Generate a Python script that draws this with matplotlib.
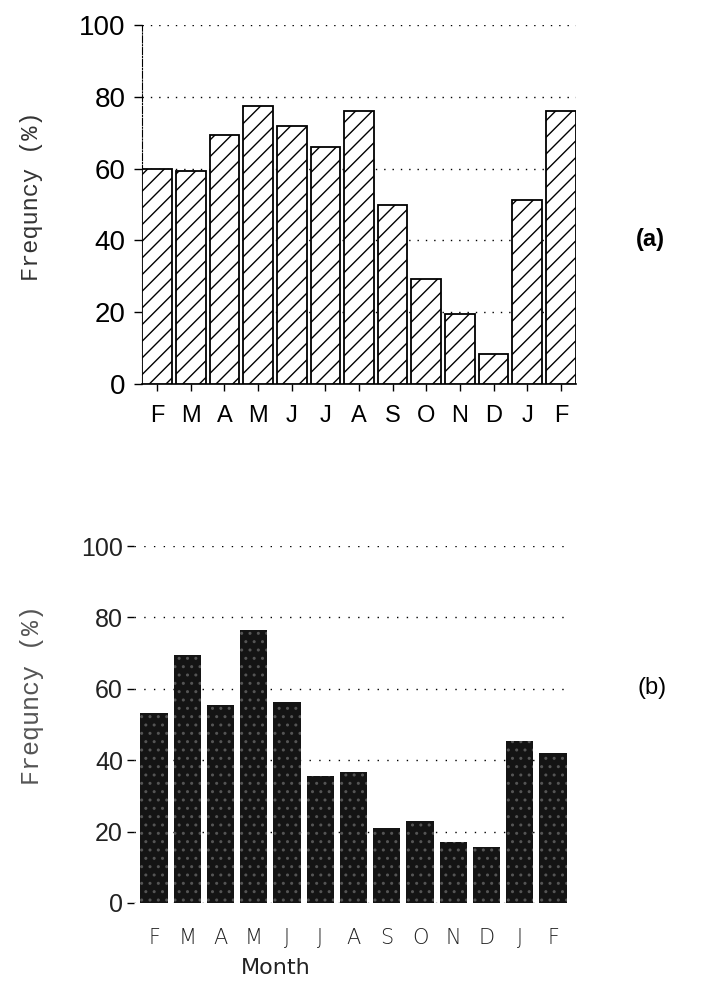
import matplotlib.pyplot as plt

# meses del ciclo anual (feb a feb)
meses = ['F', 'M', 'A', 'M', 'J', 'J', 'A', 'S', 'O', 'N', 'D', 'J', 'F']
frec_a = [60, 59.4, 69.4, 77.4, 71.9, 66.1, 76.1, 50, 29.2, 19.4, 8.4, 51.2, 76]
frec_b = [53.3, 69.6, 55.4, 76.6, 56.3, 35.5, 36.6, 20.9, 23, 17, 15.7, 45.3, 41.9]
ticks_y = [0, 20, 40, 60, 80, 100]

W, H = 701, 1006


def caja(x0, y0, x1, y1):
  # coordenadas en pixeles (origen arriba a la izquierda) -> fraccion de figura
  return [x0 / W, 1 - y1 / H, (x1 - x0) / W, (y1 - y0) / H]


def texto(x, y, s, **kw):
  fig.text(x / W, 1 - y / H, s, ha='center', va='center', **kw)


fig = plt.figure(figsize=(W / 100, H / 100), dpi=100)

# ---- panel (a): barras rayadas ----
ax1 = fig.add_axes(caja(142, 25, 576, 384))
ax1.bar(range(len(meses)), frec_a, width=0.88, color='white', edgecolor='black',
        linewidth=1.3, hatch='//', zorder=3)
ax1.set_xlim(-0.45, 12.45)
ax1.set_ylim(0, 100)
ax1.set_yticks(ticks_y)
ax1.set_yticklabels([str(t) for t in ticks_y], fontsize=20, family='Liberation Sans')
ax1.set_xticks(range(len(meses)))
ax1.set_xticklabels(meses, fontsize=17, family='Liberation Sans')
for s in ['top', 'right']:
  ax1.spines[s].set_visible(False)
ax1.spines['left'].set_linestyle('-.')
ax1.spines['left'].set_linewidth(0.8)
ax1.spines['bottom'].set_linewidth(1.2)
ax1.tick_params(axis='y', length=6, width=1, pad=6)
ax1.tick_params(axis='x', length=5, width=1, pad=10)
ax1.yaxis.grid(True, linestyle=(0, (1, 5)), color='black', linewidth=1, zorder=0)
texto(32, 196, 'Frequncy (%)', family='Liberation Mono', fontsize=17,
      color='#333333', rotation=90)
texto(650, 240, '(a)', fontsize=17, fontweight='bold', family='Liberation Sans')

# ---- panel (b): barras oscuras ----
ax2 = fig.add_axes(caja(134, 546, 568, 903))
ax2.bar(range(len(meses)), frec_b, width=0.82, color='#141414', edgecolor='#555555',
        linewidth=0, hatch='..', zorder=3)
ax2.set_xlim(-0.6, 12.45)
ax2.set_ylim(0, 100)
ax2.set_yticks(ticks_y)
ax2.set_yticklabels([str(t) for t in ticks_y], fontsize=18, family='Liberation Sans',
                    color='#222222')
ax2.set_xticks(range(len(meses)))
ax2.set_xticklabels(meses, fontsize=15, family='DejaVu Sans', fontweight='light',
                    color='#222222')
for s in ['top', 'right', 'left', 'bottom']:
  ax2.spines[s].set_visible(False)
ax2.tick_params(axis='y', length=5, width=1, pad=3)
ax2.tick_params(axis='x', length=0, pad=18)
ax2.yaxis.grid(True, linestyle=(0, (1, 6)), color='black', linewidth=1, zorder=0)
texto(32, 695, 'Frequncy (%)', family='Liberation Mono', fontsize=18,
      color='#555555', rotation=90)
texto(276, 968, 'Month', family='DejaVu Sans', fontsize=16, color='#222222')
texto(652, 688, '(b)', fontsize=17, family='Liberation Sans')

plt.savefig('out.png', dpi=100)
plt.close()
